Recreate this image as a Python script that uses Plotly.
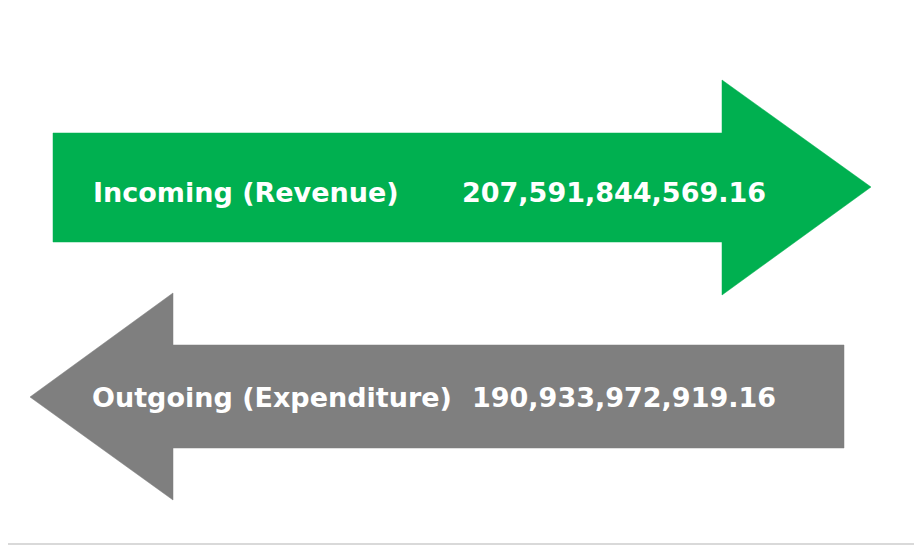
import plotly.graph_objects as go

labels = ["Incoming (Revenue)", "Outgoing (Expenditure)"]
values = [207591844569.16, 190933972919.16]
colors = ["#00b050", "#7f7f7f"]

# arrow outlines in pixel space (x, y from top-left of the page)
arrows = [
    dict(x=[53, 722, 722, 871, 722, 722, 53, 53],
         y=[133, 133, 80, 187, 295, 242, 242, 133]),
    dict(x=[844, 173, 173, 30, 173, 173, 844, 844],
         y=[345, 345, 293, 397, 500, 448, 448, 345]),
]
label_x = [91, 90]
value_x = [460, 470]
text_y = [192, 397]

fig = go.Figure()
for a, c in zip(arrows, colors):
    fig.add_trace(go.Scatter(x=a["x"], y=a["y"], fill="toself", fillcolor=c,
                             mode="lines", line=dict(color=c, width=0.5),
                             hoverinfo="skip", showlegend=False))

for lab, val, lx, vx, ty in zip(labels, values, label_x, value_x, text_y):
    fig.add_annotation(x=lx, y=ty, text=f"<b>{lab}</b>", showarrow=False,
                       xanchor="left", yanchor="middle")
    fig.add_annotation(x=vx, y=ty, text=f"<b>{val:,.2f}</b>", showarrow=False,
                       xanchor="left", yanchor="middle")

fig.update_annotations(font=dict(family="DejaVu Sans", size=27, color="white"))

# the page body has an 8px margin, so the figure starts at (8, 8)
fig.update_xaxes(range=[8, 922], visible=False, fixedrange=True)
fig.update_yaxes(range=[546, 8], visible=False, fixedrange=True)
fig.update_layout(width=914, height=538,
                  margin={"r": 0, "l": 0, "t": 0, "b": 0},
                  plot_bgcolor="white", paper_bgcolor="white",
                  shapes=[dict(type="line", x0=919.5, x1=919.5, y0=8, y1=545,
                               line=dict(color="#d9d9d9", width=2)),
                          dict(type="line", x0=0, x1=921, y0=544, y1=544,
                               line=dict(color="#d9d9d9", width=2))])

fig.write_html("out.html")
